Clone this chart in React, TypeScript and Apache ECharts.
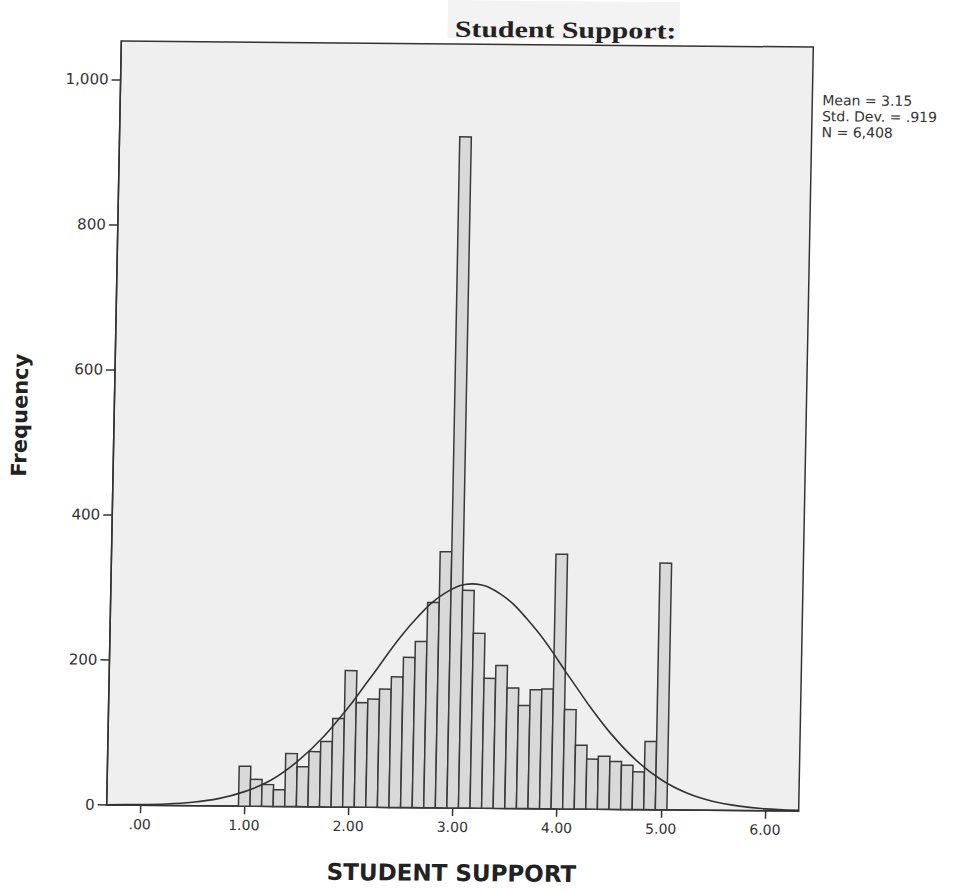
import React, { useEffect, useRef } from "react";
import * as echarts from "echarts";

// Histogram bins (centre of each bar) and their frequencies
const binCenters = [
  1.0, 1.111, 1.222, 1.333, 1.444, 1.556, 1.667, 1.778, 1.889,
  2.0, 2.111, 2.222, 2.333, 2.444, 2.556, 2.667, 2.778, 2.889,
  3.0, 3.111, 3.222, 3.333, 3.444, 3.556, 3.667, 3.778, 3.889,
  4.0, 4.111, 4.222, 4.333, 4.444, 4.556, 4.667, 4.778, 4.889,
  5.0,
];
const frequencies = [
  55, 37, 30, 23, 73, 55, 76, 90, 122,
  188, 144, 149, 163, 180, 207, 229, 283, 353,
  925, 300, 241, 179, 197, 166, 142, 164, 165,
  351, 137, 88, 69, 73, 66, 61, 52, 94,
  340,
];
const BIN_WIDTH = 1 / 9;

// Normal curve, points
const curveX = [
  -0.32, 0, 0.25, 0.5, 0.75, 1, 1.25, 1.5, 1.75, 2, 2.125, 2.25, 2.375, 2.5, 2.625, 2.75, 2.875,
  3, 3.075, 3.15, 3.225, 3.3, 3.425, 3.55, 3.675, 3.8, 3.925, 4.05, 4.175, 4.3, 4.5, 4.75, 5, 5.25, 5.5,
  5.75, 6, 6.32,
];
const curveY = [
  0.3, 0.9, 2.1, 4.8, 10, 20, 36, 62, 97, 141, 166, 191, 217, 241, 262, 281, 295,
  305, 308, 309, 308, 305, 295, 281, 262, 241, 217, 191, 166, 141, 105, 68, 41, 23, 12,
  6, 2.5, 0.8,
];

const xTickValues = [0, 1, 2, 3, 4, 5, 6];
const yTickValues = [0, 200, 400, 600, 800, 1000];

const titleText = "Student Support:";
const statsLines = ["Mean = 3.15", "Std. Dev. = .919", "N = 6,408"];
const xAxisTitle = "STUDENT SUPPORT";
const yAxisTitle = "Frequency";

export default function App() {
  const ref = useRef<HTMLDivElement>(null);

  useEffect(() => {
    if (!ref.current) return;
    const chart = echarts.init(ref.current, undefined, { renderer: "svg" });

    const barData = binCenters.map((c, i) => [c, frequencies[i]]);
    const curveData = curveX.map((x, i) => [x, curveY[i]]);

    const option: any = {
      animation: false,
      backgroundColor: "#ffffff",
      grid: {
        left: 114,
        right: 156,
        top: 44,
        bottom: 82,
        show: true,
        backgroundColor: "#efefef",
        borderColor: "#333",
        borderWidth: 1.5,
        containLabel: false,
        outerBoundsMode: "none",
      },
      xAxis: {
        type: "value",
        min: -0.32,
        max: 6.32,
        splitLine: { show: false },
        axisLine: { show: true, onZero: false, lineStyle: { color: "#333", width: 1.5 } },
        axisTick: {
          show: true,
          customValues: xTickValues,
          length: 8,
          lineStyle: { color: "#333", width: 1.5 },
        },
        axisLabel: {
          customValues: xTickValues,
          margin: 12,
          color: "#333",
          fontFamily: "DejaVu Sans",
          fontSize: 14,
          formatter: (v: number) => (v === 0 ? ".00" : v.toFixed(2)),
        },
      },
      yAxis: {
        type: "value",
        min: 0,
        max: 1053,
        splitLine: { show: false },
        axisLine: { show: true, onZero: false, lineStyle: { color: "#333", width: 1.5 } },
        axisTick: {
          show: true,
          customValues: yTickValues,
          length: 9,
          lineStyle: { color: "#333", width: 1.5 },
        },
        axisLabel: {
          customValues: yTickValues,
          margin: 12,
          color: "#333",
          fontFamily: "DejaVu Sans",
          fontSize: 15,
          formatter: (v: number) => v.toLocaleString("en-US"),
        },
      },
      series: [
        {
          type: "custom",
          data: barData,
          renderItem: (params: any, api: any) => {
            const c = api.value(0);
            const v = api.value(1);
            const p0 = api.coord([c - BIN_WIDTH / 2, 0]);
            const p1 = api.coord([c + BIN_WIDTH / 2, v]);
            return {
              type: "rect",
              shape: { x: p0[0], y: p1[1], width: p1[0] - p0[0], height: p0[1] - p1[1] },
              style: { fill: "#d9d9d9", stroke: "#3a3a3a", lineWidth: 1.5 },
            };
          },
          z: 2,
        },
        {
          type: "line",
          data: curveData,
          smooth: 0.3,
          showSymbol: false,
          symbol: "none",
          lineStyle: { color: "#333", width: 1.6 },
          z: 3,
        },
      ],
      graphic: [
        {
          type: "rect",
          shape: { x: 440, y: 0, width: 232, height: 38 },
          style: { fill: "#f3f3f3" },
          z: 0,
        },
        {
          type: "text",
          x: 558,
          y: 29,
          scaleX: 1.3,
          style: {
            text: titleText,
            font: "bold 23px 'Liberation Serif'",
            fill: "#222",
            textAlign: "center",
            textVerticalAlign: "middle",
          },
        },
        ...statsLines.map((t, i) => ({
          type: "text",
          x: 816,
          y: 97 + i * 16,
          style: {
            text: t,
            font: "14px 'DejaVu Sans'",
            fill: "#333",
            textAlign: "left",
            textVerticalAlign: "middle",
          },
        })),
        {
          type: "text",
          x: 20,
          y: 419,
          rotation: Math.PI / 2,
          style: {
            text: yAxisTitle,
            font: "bold 21px 'DejaVu Sans'",
            fill: "#222",
            textAlign: "center",
            textVerticalAlign: "middle",
          },
        },
        {
          type: "text",
          x: 460,
          y: 873,
          style: {
            text: xAxisTitle,
            font: "bold 23px 'DejaVu Sans'",
            fill: "#222",
            textAlign: "center",
            textVerticalAlign: "middle",
          },
        },
      ],
    };

    chart.setOption(option);
    return () => chart.dispose();
  }, []);

  return (
    <div
      ref={ref}
      style={{
        position: "absolute",
        left: 0,
        top: 0,
        width: 962,
        height: 890,
        transform: "rotate(0.5deg) skewX(-0.6deg)",
        transformOrigin: "460px 426px",
      }}
    />
  );
}
